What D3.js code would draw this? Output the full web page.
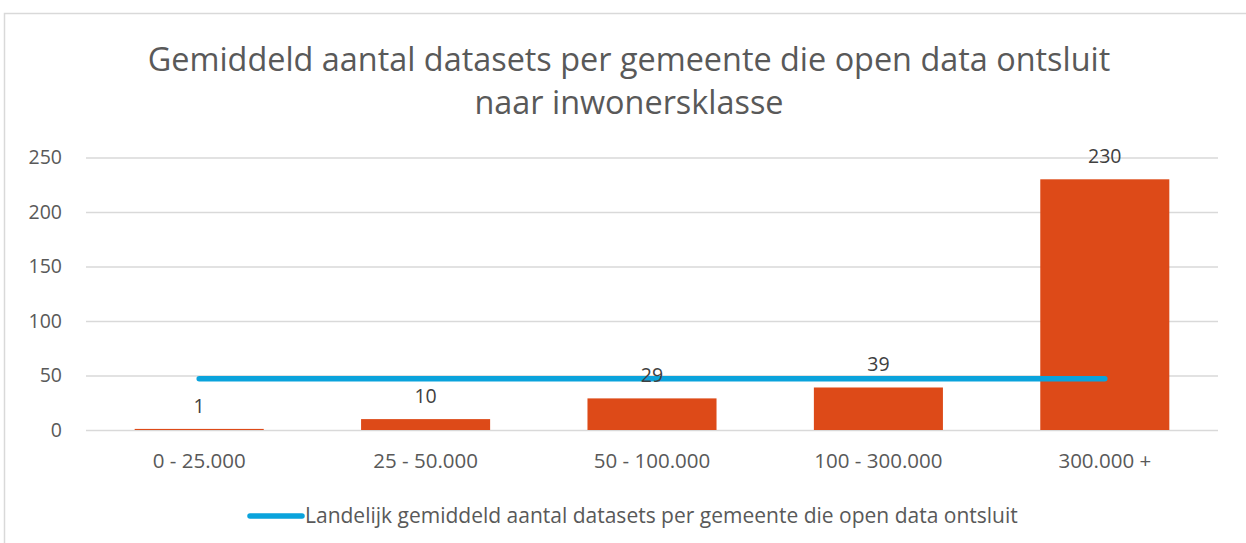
<!DOCTYPE html>
<html><head><meta charset="utf-8">
<script src="https://cdn.jsdelivr.net/npm/d3@7"></script>
<style>body{margin:0;background:#fff}svg{display:block}text{font-family:"Open Sans",sans-serif}</style>
</head><body>
<svg id="c" width="1246" height="543"></svg>
<script>
const categories = ["0 - 25.000","25 - 50.000","50 - 100.000","100 - 300.000","300.000 +"];
const values = [1, 10, 29, 39, 230];
const nationalAvg = [47, 47, 47, 47, 47];
const yTicks = [0, 50, 100, 150, 200, 250];
const titleLines = ["Gemiddeld aantal datasets per gemeente die open data ontsluit","naar inwonersklasse"];
const legendLabel = "Landelijk gemiddeld aantal datasets per gemeente die open data ontsluit";

const svg = d3.select("#c");
const m = {left: 86, right: 1218, top: 157.5, bottom: 430};
const txt = "#595959", grid = "#d9d9d9", barC = "#DD4A18", lineC = "#0AA3DC";

svg.append("rect").attr("x", 4.5).attr("y", 13.5).attr("width", 1260).attr("height", 600)
  .attr("fill", "#fff").attr("stroke", grid).attr("stroke-width", 1.5);

const x = d3.scaleBand().domain(categories).range([m.left, m.right]).paddingInner(0.43).paddingOuter(0.215);
const y = d3.scaleLinear().domain([0, 250]).range([m.bottom, m.top]);

// title
svg.append("g").selectAll("text").data(titleLines).join("text")
  .attr("x", 629).attr("y", (d, i) => 71 + i * 43)
  .attr("text-anchor", "middle").attr("fill", txt).attr("font-size", 32.4)
  .text(d => d);

// grid + y axis
const yAxis = d3.axisLeft(y).tickValues(yTicks).tickSize(-(m.right - m.left)).tickPadding(24);
const gy = svg.append("g").attr("transform", `translate(${m.left},0)`).call(yAxis);
gy.select(".domain").remove();
gy.selectAll(".tick line").attr("stroke", grid).attr("stroke-width", 1.5);
gy.selectAll(".tick text").attr("fill", txt).attr("font-size", 19.5).attr("font-family", "Open Sans");

// bars
svg.append("g").selectAll("rect").data(values).join("rect")
  .attr("x", (d, i) => x(categories[i]))
  .attr("width", x.bandwidth())
  .attr("y", d => y(d))
  .attr("height", d => y(0) - y(d))
  .attr("fill", barC);

// x axis labels
const xAxis = d3.axisBottom(x).tickSize(0).tickPadding(23);
const gx = svg.append("g").attr("transform", `translate(0,${m.bottom})`).call(xAxis);
gx.select(".domain").remove();
gx.selectAll(".tick text").attr("fill", txt).attr("font-size", 20.5).attr("font-family", "Open Sans");

// average line
const line = d3.line().x((d, i) => x(categories[i]) + x.bandwidth() / 2).y(d => y(d));
svg.append("path").datum(nationalAvg).attr("d", line)
  .attr("fill", "none").attr("stroke", lineC).attr("stroke-width", 5.5).attr("stroke-linecap", "round");

// value labels
svg.append("g").selectAll("text").data(values).join("text")
  .attr("x", (d, i) => x(categories[i]) + x.bandwidth() / 2)
  .attr("y", d => y(d) - 16)
  .attr("text-anchor", "middle").attr("fill", "#404040").attr("font-size", 19.5)
  .text(d => d);

// legend
const lg = svg.append("g");
lg.append("line").attr("x1", 250).attr("x2", 302).attr("y1", 516).attr("y2", 516)
  .attr("stroke", lineC).attr("stroke-width", 5.5).attr("stroke-linecap", "round");
lg.append("text").attr("x", 305).attr("y", 523).attr("fill", txt).attr("font-size", 21)
  .text(legendLabel);
</script>
</body></html>
